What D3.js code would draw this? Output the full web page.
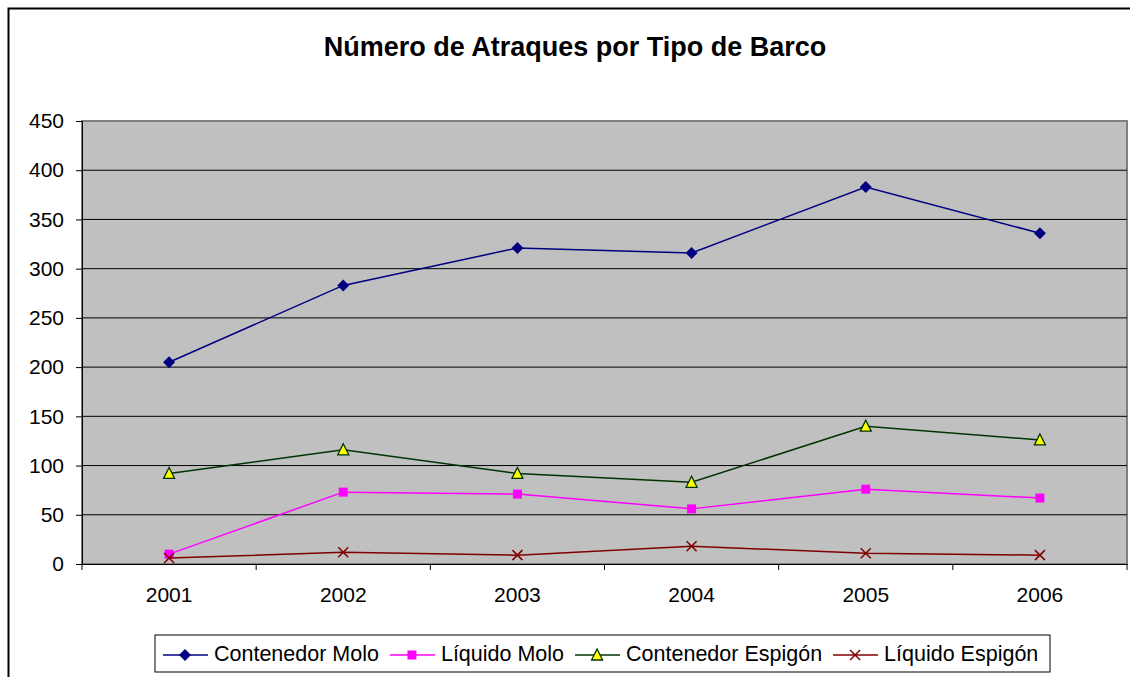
<!DOCTYPE html>
<html>
<head>
<meta charset="utf-8">
<script src="https://cdn.jsdelivr.net/npm/d3@7"></script>
<style>
  body { margin: 0; background: #fff; }
  svg { display: block; font-family: Arial, "Liberation Sans", sans-serif; }
</style>
</head>
<body>
<div id="chart"></div>
<script>
// data
var years = ['2001', '2002', '2003', '2004', '2005', '2006'];
var contenedorMolo = [205, 283, 321, 316, 383, 336];
var liquidoMolo = [10, 73, 71, 56, 76, 67];
var contenedorEspigon = [92, 116, 92, 83, 140, 126];
var liquidoEspigon = [6, 12, 9, 18, 11, 9];
var yTicks = [0, 50, 100, 150, 200, 250, 300, 350, 400, 450];

var series = [
  {name: 'Contenedor Molo', values: contenedorMolo, color: '#000080', marker: 'diamond'},
  {name: 'Líquido Molo', values: liquidoMolo, color: '#FF00FF', marker: 'square'},
  {name: 'Contenedor Espigón', values: contenedorEspigon, color: '#003300', marker: 'triangle'},
  {name: 'Líquido Espigón', values: liquidoEspigon, color: '#800000', marker: 'cross'}
];

var width = 1130, height = 677;
var plot = {left: 82, right: 1127, top: 121, bottom: 564};
var font = 'Arial, "Liberation Sans", sans-serif';

var svg = d3.select('#chart').append('svg')
  .attr('width', width).attr('height', height);

// outer chart border (cut off at right and bottom)
svg.append('rect')
  .attr('x', 8.5).attr('y', 8.5)
  .attr('width', 1200).attr('height', 800)
  .attr('fill', '#fff').attr('stroke', '#000').attr('stroke-width', 2);

svg.append('text')
  .attr('x', 575).attr('y', 56)
  .attr('text-anchor', 'middle')
  .attr('font-size', 27).attr('font-weight', 'bold')
  .text('Número de Atraques por Tipo de Barco');

var x = d3.scaleBand()
  .domain(years)
  .range([plot.left, plot.right]);

var y = d3.scaleLinear()
  .domain([0, 450])
  .range([plot.bottom, plot.top]);

// plot background
svg.append('rect')
  .attr('x', plot.left).attr('y', plot.top)
  .attr('width', plot.right - plot.left).attr('height', plot.bottom - plot.top)
  .attr('fill', '#C0C0C0').attr('stroke', '#808080').attr('stroke-width', 2);

// gridlines
svg.append('g')
  .selectAll('line')
  .data(yTicks.slice(1, -1))
  .enter().append('line')
  .attr('x1', plot.left).attr('x2', plot.right)
  .attr('y1', d => y(d)).attr('y2', d => y(d))
  .attr('stroke', '#000').attr('stroke-width', 1);

// y axis
var yAxis = svg.append('g')
  .attr('transform', 'translate(' + plot.left + ',0)')
  .call(d3.axisLeft(y).tickValues(yTicks).tickSize(6).tickPadding(12));
yAxis.select('.domain').attr('stroke', '#000');
yAxis.selectAll('.tick line').attr('stroke', '#000');
yAxis.selectAll('text').attr('font-size', 21).attr('fill', '#000')
  .attr('font-family', font);

// x axis with ticks between categories
var xAxis = svg.append('g')
  .attr('transform', 'translate(0,' + plot.bottom + ')')
  .call(d3.axisBottom(x).tickSize(0).tickPadding(23));
xAxis.select('.domain').attr('stroke', '#000');
xAxis.selectAll('text').attr('font-size', 21).attr('fill', '#000')
  .attr('font-family', font);
svg.append('g')
  .selectAll('line')
  .data(years.map(d => x(d)).concat([plot.right]))
  .enter().append('line')
  .attr('x1', d => d).attr('x2', d => d)
  .attr('y1', plot.bottom).attr('y2', plot.bottom + 6)
  .attr('stroke', '#000');

function drawMarker(g, s, cx, cy) {
  if (s.marker === 'diamond') {
    g.append('path').attr('d', 'M' + cx + ',' + (cy - 6) + 'L' + (cx + 6) + ',' + cy + 'L' + cx + ',' + (cy + 6) + 'L' + (cx - 6) + ',' + cy + 'Z')
      .attr('fill', s.color);
  } else if (s.marker === 'square') {
    g.append('rect').attr('x', cx - 4.5).attr('y', cy - 4.5).attr('width', 9).attr('height', 9)
      .attr('fill', s.color);
  } else if (s.marker === 'triangle') {
    g.append('path').attr('d', 'M' + cx + ',' + (cy - 6) + 'L' + (cx + 5.5) + ',' + (cy + 5) + 'L' + (cx - 5.5) + ',' + (cy + 5) + 'Z')
      .attr('fill', '#FFFF00').attr('stroke', s.color).attr('stroke-width', 1.3);
  } else {
    g.append('path').attr('d', 'M' + (cx - 5) + ',' + (cy - 5) + 'L' + (cx + 5) + ',' + (cy + 5) + 'M' + (cx - 5) + ',' + (cy + 5) + 'L' + (cx + 5) + ',' + (cy - 5))
      .attr('stroke', s.color).attr('stroke-width', 1.5).attr('fill', 'none');
  }
}

var line = d3.line()
  .x((d, i) => x(years[i]) + x.bandwidth() / 2)
  .y(d => y(d));

series.forEach(function(s) {
  var g = svg.append('g');
  g.append('path')
    .attr('d', line(s.values))
    .attr('fill', 'none').attr('stroke', s.color).attr('stroke-width', 1.5);
  s.values.forEach(function(v, i) {
    drawMarker(g, s, x(years[i]) + x.bandwidth() / 2, y(v));
  });
});

// legend
var legend = svg.append('g');
legend.append('rect')
  .attr('x', 155).attr('y', 635)
  .attr('width', 895).attr('height', 37)
  .attr('fill', '#fff').attr('stroke', '#000').attr('stroke-width', 1);

var lx = 163;
series.forEach(function(s) {
  var g = legend.append('g');
  g.append('line').attr('x1', lx).attr('x2', lx + 45)
    .attr('y1', 655).attr('y2', 655)
    .attr('stroke', s.color).attr('stroke-width', 1.5);
  drawMarker(g, s, lx + 22, 655);
  var t = g.append('text').attr('x', lx + 51).attr('y', 661)
    .attr('font-size', 21.5).text(s.name);
  lx += 51 + t.node().getComputedTextLength() + 11;
});
</script>
</body>
</html>
